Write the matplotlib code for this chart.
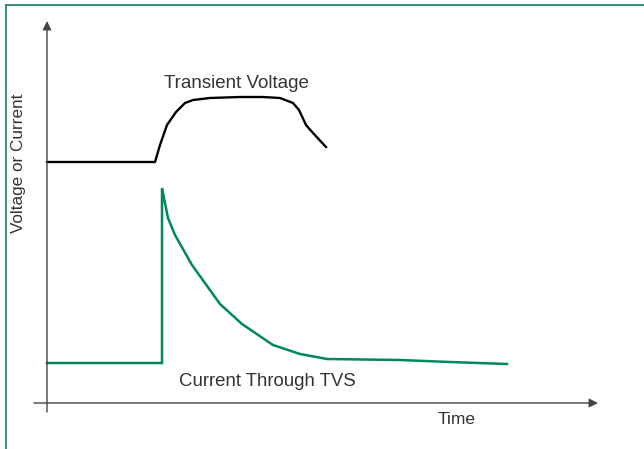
import matplotlib
matplotlib.use("Agg")
import matplotlib.pyplot as plt
from matplotlib.lines import Line2D

# time axis in arbitrary units, origin at the vertical axis
volt_t = [0, 108, 113, 120, 129, 138, 146, 163, 193, 216, 233, 246, 252, 259, 266, 279]
volt_v = [241, 241, 258, 278, 291, 300, 303, 305, 306, 306, 305, 300, 293, 278, 270, 256]

curr_t = [0, 115, 115, 121, 128, 145, 173, 195, 226, 253, 280, 353, 403, 460]
curr_i = [40, 40, 215, 185, 168, 138, 99, 79, 58, 49, 44, 43, 41, 39]

GREEN = '#00875a'
TEXT = '#333333'
FONT = ['Liberation Sans', 'DejaVu Sans']

fig = plt.figure(figsize=(6.44, 4.49), dpi=100)
ax = fig.add_axes([0, 0, 1, 1])
ax.set_xlim(-47, 597)
ax.set_ylim(-46, 403)
ax.axis('off')

# axes with arrow heads
ax.annotate('', xy=(551, 0), xytext=(-13, 0),
            arrowprops=dict(arrowstyle='-|>', color='#444444', lw=1.0, mutation_scale=13, shrinkA=0, shrinkB=0))
ax.annotate('', xy=(0, 382), xytext=(0, -9),
            arrowprops=dict(arrowstyle='-|>', color='#444444', lw=1.0, mutation_scale=13, shrinkA=0, shrinkB=0))

ax.plot(volt_t, volt_v, color='black', lw=1.7, solid_joinstyle='round')
ax.plot(curr_t, curr_i, color=GREEN, lw=1.8, solid_joinstyle='miter')

ax.text(189, 320, 'Transient Voltage', fontsize=13.5, color=TEXT, ha='center', va='center', family=FONT)
ax.text(220, 22, 'Current Through TVS', fontsize=13.4, color=TEXT, ha='center', va='center', family=FONT)
ax.text(410, -17, 'Time', fontsize=12.5, color=TEXT, ha='center', va='center', family=FONT)
ax.text(-29, 240, 'Voltage or Current', fontsize=12.3, color=TEXT, ha='center', va='center', rotation=90, family=FONT)

# green frame on top and left edges
W, H = 644, 449
fig.add_artist(Line2D([5.5 / W, 1], [1 - 5 / H, 1 - 5 / H], color='#2a8a5e', lw=1.3, transform=fig.transFigure))
fig.add_artist(Line2D([5.5 / W, 5.5 / W], [0, 1 - 5 / H], color='#2a8a5e', lw=1.3, transform=fig.transFigure))

fig.savefig('out.png', dpi=100)
